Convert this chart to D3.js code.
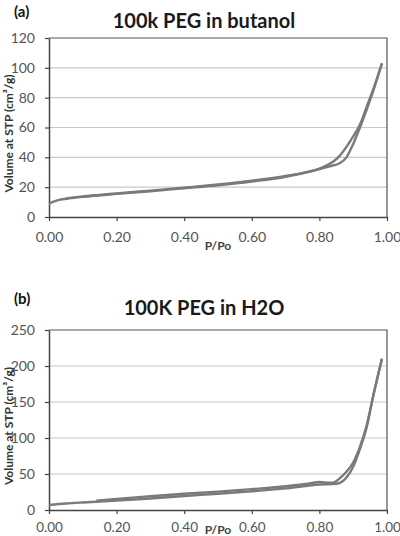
<!DOCTYPE html>
<html><head><meta charset="utf-8">
<script src="https://cdn.jsdelivr.net/npm/d3@7"></script>
<style>body{margin:0;background:#fff}svg{display:block}</style>
</head><body>
<svg id="c" width="400" height="536"></svg>
<script>
// Panel (a): 100k PEG in butanol
const aAdsX = [0, 0.01, 0.03, 0.06, 0.1, 0.2, 0.3, 0.4, 0.5, 0.6, 0.7, 0.78, 0.83, 0.86, 0.88, 0.9, 0.92, 0.94, 0.96, 0.985];
const aAdsY = [9, 10, 11.5, 12.5, 13.5, 15.5, 17.3, 19.3, 21.3, 23.8, 27, 31, 34, 36, 40, 49, 60, 72, 85, 103];
const aDesX = [0.985, 0.96, 0.94, 0.92, 0.9, 0.88, 0.86, 0.84, 0.82, 0.8, 0.7, 0.6, 0.5, 0.4, 0.3, 0.2, 0.1, 0.05];
const aDesY = [103, 86, 74, 62, 54, 47, 41, 37, 34.5, 32.5, 27.5, 24.3, 21.8, 19.7, 17.7, 15.8, 13.8, 12.5];
const aYTicks = [0, 20, 40, 60, 80, 100, 120];

// Panel (b): 100K PEG in H2O
const bAdsX = [0, 0.05, 0.1, 0.2, 0.3, 0.4, 0.5, 0.6, 0.7, 0.8, 0.84, 0.86, 0.88, 0.9, 0.92, 0.94, 0.96, 0.985];
const bAdsY = [7, 9, 10.5, 13, 16, 19.5, 22.5, 26, 30, 35.5, 36, 37.5, 45, 60, 85, 115, 160, 210];
const bDesX = [0.985, 0.96, 0.94, 0.92, 0.9, 0.88, 0.86, 0.84, 0.82, 0.8, 0.78, 0.7, 0.6, 0.5, 0.4, 0.3, 0.2, 0.14];
const bDesY = [210, 160, 118, 88, 66, 53, 44, 38, 38, 39, 37.5, 33, 29, 25.5, 22.5, 19, 15.5, 13];
const bYTicks = [0, 50, 100, 150, 200, 250];

const xTicks = [0, 0.2, 0.4, 0.6, 0.8, 1.0];

const svg = d3.select("#c");
const FONT = "Lato, 'Open Sans', sans-serif";

function panel(o) {
  const g = svg.append("g");
  const x = d3.scaleLinear().domain([0, 1]).range([49, 387]);
  const y = d3.scaleLinear().domain([0, o.ymax]).range([o.bottom, o.top]);

  // panel letter
  g.append("text").attr("x", 14).attr("y", o.letterY).text(o.letter)
    .style("font-family", FONT).style("font-weight", "bold").style("font-size", "15px").attr("fill", "#111");
  // title
  g.append("text").attr("x", 204).attr("y", o.titleY).attr("text-anchor", "middle").text(o.title)
    .style("font-family", FONT).style("font-weight", "bold").style("font-size", "20px").attr("fill", "#1a1a1a");

  // gridlines
  g.append("g").selectAll("line").data(o.yTicks.filter(d => d > 0 && d < o.ymax)).join("line")
    .attr("x1", x(0)).attr("x2", x(1)).attr("y1", d => y(d)).attr("y2", d => y(d))
    .attr("stroke", "#c8c8c8").attr("stroke-width", 1.2);

  // frame top/right
  g.append("path").attr("d", `M${x(0)},${y(o.ymax)}H${x(1)}V${y(0)}`)
    .attr("fill", "none").attr("stroke", "#555").attr("stroke-width", 1.2);

  // axes
  const xa = g.append("g").attr("transform", `translate(0,${y(0)})`)
    .call(d3.axisBottom(x).tickValues(xTicks).tickFormat(d3.format(".2f")).tickSizeInner(4).tickSizeOuter(0).tickPadding(o.xPad));
  const ya = g.append("g").attr("transform", `translate(${x(0)},0)`)
    .call(d3.axisLeft(y).tickValues(o.yTicks).tickSizeInner(4).tickSizeOuter(0).tickPadding(10));
  [xa, ya].forEach(a => {
    a.select(".domain").attr("stroke", "#444").attr("stroke-width", 1.5);
    a.selectAll(".tick line").attr("stroke", "#444").attr("stroke-width", 1.2);
    a.selectAll(".tick text").style("font-family", FONT).style("font-size", "14px").attr("fill", "#555");
  });
  xa.selectAll(".tick text").style("font-size", o.xFont);

  // axis titles
  g.append("text").attr("x", 218).attr("y", o.bottom + o.pLabelDy).attr("text-anchor", "middle").text("P/Po")
    .style("font-family", FONT).style("font-weight", "bold").style("font-size", "12px").attr("fill", "#444");
  g.append("text").attr("transform", `translate(13,${(o.top + o.bottom) / 2 + 6}) rotate(-90)`)
    .attr("text-anchor", "middle").text("Volume at STP (cm³/g)")
    .style("font-family", FONT).style("font-weight", "bold").style("font-size", "12px").attr("fill", "#333");

  const line = d3.line().x(d => x(d[0])).y(d => y(d[1])).curve(d3.curveMonotoneX);
  [[o.adsX, o.adsY], [o.desX, o.desY]].forEach(([xs, ys]) => {
    const pts = xs.map((v, i) => [v, ys[i]]).sort((p, q) => p[0] - q[0]);
    g.append("path").datum(pts).attr("d", line).attr("fill", "none")
      .attr("stroke", "#7a7a7a").attr("stroke-width", 2.4).attr("stroke-linejoin", "round");
  });
}

panel({ letter: "(a)", letterY: 17, title: "100k PEG in butanol", titleY: 28, ymax: 120, top: 38, bottom: 217, pLabelDy: 33,
  xPad: 11, xFont: "14px",
  yTicks: aYTicks, adsX: aAdsX, adsY: aAdsY, desX: aDesX, desY: aDesY });
panel({ letter: "(b)", letterY: 304, title: "100K PEG in H2O", titleY: 315, ymax: 250, top: 330, bottom: 510, pLabelDy: 24,
  xPad: 8, xFont: "13.5px",
  yTicks: bYTicks, adsX: bAdsX, adsY: bAdsY, desX: bDesX, desY: bDesY });
</script>
</body></html>
